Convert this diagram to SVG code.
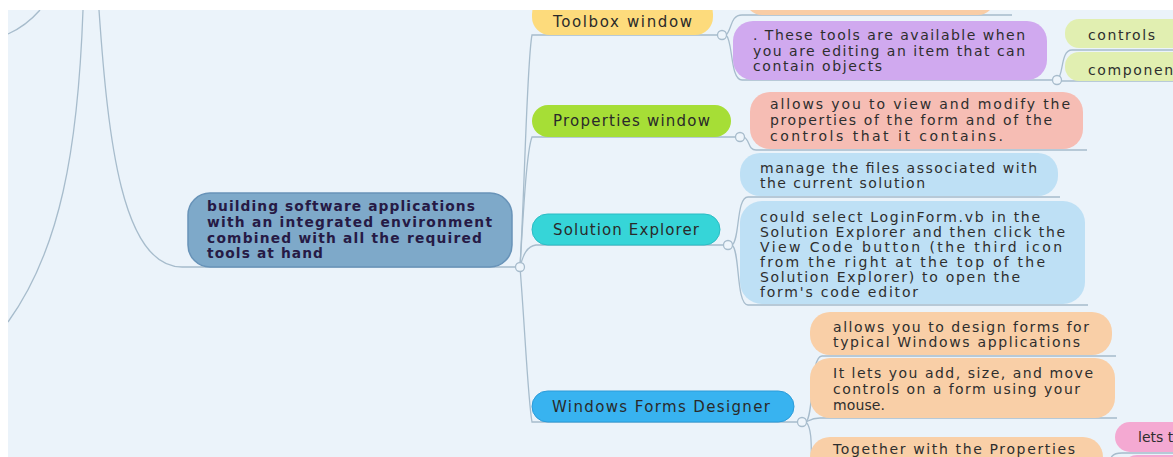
<svg xmlns="http://www.w3.org/2000/svg" width="1173" height="457" viewBox="0 0 1173 457">
<style>
.ln{fill:none;stroke:#a7bccc;stroke-width:1.3}
.dot{fill:#eef5fb;stroke:#a7bccc;stroke-width:1.3}
.t{font-family:"DejaVu Sans","Liberation Sans",sans-serif;font-size:14px;fill:#2e2e2e}
.tb{font-family:"DejaVu Sans","Liberation Sans",sans-serif;font-size:15px;fill:#2a2a2a}
.tc{font-family:"DejaVu Sans","Liberation Sans",sans-serif;font-size:13.8px;font-weight:bold;fill:#261a45}
</style>
<rect x="0" y="0" width="1173" height="457" fill="#ebf3fa"/>
<g id="connectors">
<path class="ln" d="M8,34 Q26,26 40,10"/>
<path class="ln" d="M83,10 C78,150 60,250 8,322"/>
<path class="ln" d="M516,267 L182,267 C122,267 108,140 99,10"/>
<path class="ln" d="M520,267 C525,180 527,60 532,35 L718,35"/>
<path class="ln" d="M520,267 C524,200 527,150 532,137 L736,137"/>
<path class="ln" d="M520,267 C523,255 527,246 536,245 L724,245"/>
<path class="ln" d="M520,267 C525,330 528,400 532,422 L798,422"/>
<path class="ln" d="M726,35 C732,30 730,15 742,15 L1012,15"/>
<path class="ln" d="M726,35 C733,40 730,80 742,80 L1053,80"/>
<path class="ln" d="M1057,80 C1064,76 1060,50 1072,50 L1173,50"/>
<path class="ln" d="M1061,81 L1173,81"/>
<path class="ln" d="M744,137 C750,140 748,150 756,150 L1087,150"/>
<path class="ln" d="M732,245 C740,240 736,197 748,197 L1060,197"/>
<path class="ln" d="M732,245 C740,250 736,305 748,305 L1088,305"/>
<path class="ln" d="M806,422 C814,415 810,356 822,356 L1116,356"/>
<path class="ln" d="M806,422 C810,420 812,418 820,418 L1117,418"/>
<path class="ln" d="M806,422 C814,430 810,460 812,470"/>
<path class="ln" d="M1108,470 C1110,456 1112,453 1122,453 L1173,453"/>
<circle class="dot" cx="520" cy="267" r="4.5"/>
<circle class="dot" cx="722" cy="35" r="4.5"/>
<circle class="dot" cx="740" cy="137" r="4.5"/>
<circle class="dot" cx="728" cy="245" r="4.5"/>
<circle class="dot" cx="802" cy="422" r="4.5"/>
<circle class="dot" cx="1057" cy="80" r="4.5"/>
</g>
<g id="central">
<rect x="188" y="193" width="324" height="74" rx="22" fill="#7ea9c9" stroke="#6893b8" stroke-width="1.5"/>
<text class="tc" x="207" y="211" textLength="268" lengthAdjust="spacing">building software applications</text>
<text class="tc" x="207" y="227" textLength="285" lengthAdjust="spacing">with an integrated environment</text>
<text class="tc" x="207" y="243" textLength="275" lengthAdjust="spacing">combined with all the required</text>
<text class="tc" x="207" y="258" textLength="116" lengthAdjust="spacing">tools at hand</text>
</g>
<g id="toolbox">
<rect x="532" y="-4" width="181" height="39" rx="18" fill="#fddb7c"/>
<text class="tb" x="553" y="27" textLength="139" lengthAdjust="spacing">Toolbox window</text>
</g>
<g id="properties">
<rect x="532" y="105" width="199" height="32" rx="16" fill="#a6de36"/>
<text class="tb" x="553" y="126" textLength="157" lengthAdjust="spacing">Properties window</text>
</g>
<g id="solution">
<rect x="532" y="214" width="188" height="31" rx="15.5" fill="#36d5d8" stroke="#2bbcc4" stroke-width="1"/>
<text class="tb" x="553" y="235" textLength="146" lengthAdjust="spacing">Solution Explorer</text>
</g>
<g id="wfd">
<rect x="532" y="391" width="262" height="31" rx="15.5" fill="#38b3f0" stroke="#2b9bd9" stroke-width="1"/>
<text class="tb" x="552" y="412" textLength="218" lengthAdjust="spacing">Windows Forms Designer</text>
</g>
<g id="toolbox-top">
<rect x="745" y="-22" width="250" height="37" rx="17" fill="#f9cda6"/>
</g>
<g id="toolbox-tools">
<rect x="733" y="21" width="314" height="59" rx="20" fill="#d0a9ef"/>
<text class="t" x="753" y="40" textLength="272" lengthAdjust="spacing">. These tools are available when</text>
<text class="t" x="753" y="56" textLength="272" lengthAdjust="spacing">you are editing an item that can</text>
<text class="t" x="753" y="71" textLength="129" lengthAdjust="spacing">contain objects</text>
</g>
<g id="controls">
<rect x="1065" y="19" width="130" height="29" rx="14" fill="#e1efb1"/>
<text class="t" x="1088" y="40" textLength="67" lengthAdjust="spacing">controls</text>
</g>
<g id="components">
<rect x="1065" y="52" width="130" height="29" rx="14" fill="#e1efb1"/>
<text class="t" x="1088" y="75" textLength="85" lengthAdjust="spacing">componen</text>
</g>
<g id="properties-desc">
<rect x="750" y="92" width="333" height="57" rx="20" fill="#f6bdb4"/>
<text class="t" x="770" y="109" textLength="300" lengthAdjust="spacing">allows you to view and modify the</text>
<text class="t" x="770" y="125" textLength="282" lengthAdjust="spacing">properties of the form and of the</text>
<text class="t" x="770" y="141" textLength="233" lengthAdjust="spacing">controls that it contains.</text>
</g>
<g id="solution-manage">
<rect x="740" y="153" width="318" height="43" rx="20" fill="#bee0f5"/>
<text class="t" x="760" y="173" textLength="277" lengthAdjust="spacing">manage the files associated with</text>
<text class="t" x="760" y="188" textLength="165" lengthAdjust="spacing">the current solution</text>
</g>
<g id="solution-select">
<rect x="740" y="201" width="345" height="103" rx="22" fill="#bee0f5"/>
<text class="t" x="760" y="222" textLength="280" lengthAdjust="spacing">could select LoginForm.vb in the</text>
<text class="t" x="760" y="237" textLength="305" lengthAdjust="spacing">Solution Explorer and then click the</text>
<text class="t" x="760" y="252" textLength="302" lengthAdjust="spacing">View Code button (the third icon</text>
<text class="t" x="760" y="267" textLength="285" lengthAdjust="spacing">from the right at the top of the</text>
<text class="t" x="760" y="282" textLength="260" lengthAdjust="spacing">Solution Explorer) to open the</text>
<text class="t" x="760" y="297" textLength="158" lengthAdjust="spacing">form's code editor</text>
</g>
<g id="wfd-design">
<rect x="810" y="312" width="302" height="43" rx="20" fill="#f9cfa7"/>
<text class="t" x="833" y="332" textLength="256" lengthAdjust="spacing">allows you to design forms for</text>
<text class="t" x="833" y="347" textLength="247" lengthAdjust="spacing">typical Windows applications</text>
</g>
<g id="wfd-add">
<rect x="810" y="358" width="305" height="60" rx="20" fill="#f9cfa7"/>
<text class="t" x="833" y="378" textLength="260" lengthAdjust="spacing">It lets you add, size, and move</text>
<text class="t" x="833" y="394" textLength="247" lengthAdjust="spacing">controls on a form using your</text>
<text class="t" x="833" y="410" textLength="52" lengthAdjust="spacing">mouse.</text>
</g>
<g id="wfd-together">
<rect x="810" y="437" width="293" height="40" rx="20" fill="#f9cfa7"/>
<text class="t" x="833" y="454" textLength="242" lengthAdjust="spacing">Together with the Properties</text>
</g>
<g id="lets">
<rect x="1115" y="422" width="90" height="30" rx="15" fill="#f4a9d2"/>
<text class="t" x="1138" y="442">lets t</text>
</g>
<g id="lets-below">
<rect x="1122" y="455" width="90" height="30" rx="15" fill="#f4a9d2"/>
</g>
<rect x="0" y="0" width="1173" height="10" fill="#ffffff"/>
<rect x="0" y="0" width="8" height="457" fill="#ffffff"/>
</svg>
